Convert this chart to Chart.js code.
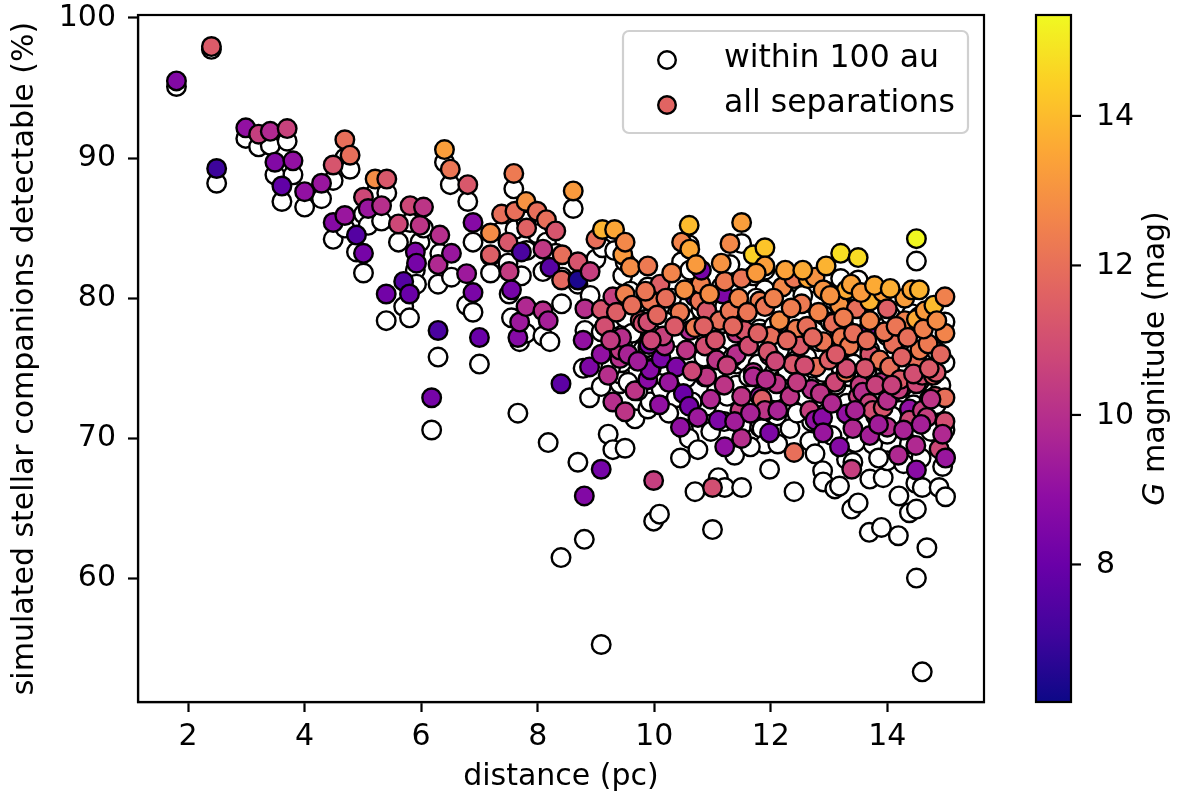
<!DOCTYPE html>
<html>
<head>
<meta charset="utf-8">
<script src="https://cdn.jsdelivr.net/npm/chart.js@4.4.1/dist/chart.umd.min.js"></script>
<style>
  html, body { margin: 0; padding: 0; background: #fff; }
  #wrap { width: 1181px; height: 797px; }
</style>
</head>
<body>
<div id="wrap"><canvas id="chart" width="1181" height="797"></canvas></div>
<script>
// one entry per star: distance (pc), detectable fraction for all separations,
// detectable fraction within 100 au, and Gaia G magnitude
const distance = [
  1.80, 2.40, 2.49, 2.99, 3.21, 3.41, 3.49, 3.61, 3.70, 3.80,
  4.00, 4.29, 4.49, 4.49, 4.69, 4.69, 4.78, 4.89, 5.01, 5.01,
  5.09, 5.21, 5.32, 5.40, 5.41, 5.61, 5.70, 5.80, 5.81, 5.90,
  5.92, 5.98, 6.04, 6.18, 6.29, 6.29, 6.32, 6.40, 6.50, 6.52,
  6.78, 6.80, 6.89, 6.89, 7.00, 7.19, 7.19, 7.38, 7.49, 7.51,
  7.55, 7.59, 7.61, 7.66, 7.69, 7.72, 7.80, 7.80, 7.81, 7.99,
  8.09, 8.09, 8.15, 8.18, 8.21, 8.31, 8.40, 8.41, 8.42, 8.61,
  8.69, 8.69, 8.78, 8.80, 8.81, 8.89, 8.90, 9.00, 9.09, 9.09,
  9.09, 9.11, 9.21, 9.29, 9.29, 9.32, 9.41, 9.41, 9.44, 9.46,
  9.50, 9.50, 9.50, 9.59, 9.67, 9.76, 9.80, 9.89, 9.89, 9.89,
  9.91, 9.93, 9.93, 9.99, 10.09, 10.10, 10.12, 10.18, 10.20, 10.38,
  10.44, 10.47, 10.50, 10.55, 10.60, 10.60, 10.61, 10.61, 10.70, 10.70,
  10.78, 10.80, 10.81, 10.87, 10.90, 10.90, 11.00, 11.07, 11.10, 11.12,
  11.18, 11.20, 11.21, 11.21, 11.30, 11.30, 11.41, 11.41, 11.47, 11.50,
  11.50, 11.50, 11.50, 11.55, 11.70, 11.70, 11.70, 11.81, 11.81, 11.85,
  11.90, 11.90, 11.90, 11.90, 11.98, 11.98, 12.00, 12.10, 12.15, 12.20,
  12.33, 12.38, 12.40, 12.40, 12.44, 12.50, 12.53, 12.64, 12.67, 12.70,
  12.76, 12.76, 12.78, 12.89, 12.90, 12.90, 12.90, 13.00, 13.07, 13.10,
  13.18, 13.18, 13.20, 13.21, 13.29, 13.30, 13.30, 13.30, 13.35, 13.39,
  13.41, 13.47, 13.50, 13.50, 13.53, 13.58, 13.69, 13.69, 13.70, 13.70,
  13.70, 13.70, 13.75, 13.87, 13.90, 13.93, 13.93, 14.00, 14.00, 14.00,
  14.04, 14.10, 14.19, 14.20, 14.22, 14.30, 14.30, 14.38, 14.38, 14.42,
  14.49, 14.50, 14.50, 14.50, 14.50, 14.50, 14.56, 14.60, 14.60, 14.65,
  14.68, 14.70, 14.79, 14.80, 14.82, 14.84, 14.89, 14.99, 14.99, 14.99,
  14.99, 15.00,
  10.05, 10.15, 10.25, 10.30, 10.35, 10.45, 10.52, 10.65, 10.72, 10.75,
  10.85, 10.95, 10.97, 11.05, 11.15, 11.25, 11.35, 11.38, 11.45, 11.60,
  11.62, 11.65, 11.75, 11.78, 11.95, 11.92, 12.05, 12.08, 12.12, 12.25,
  12.28, 12.35, 12.45, 12.55, 12.58, 12.62, 12.72, 12.82, 12.85, 12.95,
  13.02, 13.05, 13.12, 13.25, 13.38, 13.42, 13.45, 13.55, 13.62, 13.65,
  13.78, 13.80, 13.85, 13.95, 14.05, 14.08, 14.15, 14.25, 14.28, 14.35,
  14.45, 14.55, 14.58, 14.62, 14.72, 14.75, 14.85, 14.92, 14.95, 9.15,
  9.25, 9.35, 9.55, 9.62, 9.72, 9.85, 9.95
];
const detectAll = [
  95.5, 97.95, 89.25, 92.15, 91.7, 91.9, 89.7, 88.0, 92.1, 89.8,
  87.6, 88.2, 89.5, 85.4, 91.3, 85.9, 90.2, 84.5, 87.2, 83.2,
  86.4, 88.5, 86.6, 80.3, 88.5, 85.3, 81.2, 80.3, 86.6, 83.3,
  82.5, 85.2, 86.5, 72.9, 82.4, 77.7, 84.5, 90.6, 89.2, 83.2,
  81.75, 88.1, 85.4, 80.4, 77.2, 84.65, 83.1, 86.0, 84.0, 81.9,
  80.6, 88.9, 86.2, 77.2, 78.3, 83.3, 86.9, 79.4, 85.0, 86.2,
  83.5, 79.1, 85.6, 78.4, 82.2, 84.8, 73.9, 81.3, 83.1, 87.65,
  82.6, 81.3, 77.0, 65.9, 79.25, 75.1, 81.9, 84.2, 79.2, 76.0,
  67.8, 84.9, 74.5, 80.1, 72.6, 84.9, 75.7, 76.3, 77.2, 83.1,
  84.0, 80.3, 71.9, 82.2, 73.4, 78.4, 78.2, 82.3, 78.3, 74.2,
  76.7, 79.8, 74.9, 67.0, 72.4, 81.0, 75.7, 76.6, 80.0, 75.1,
  79.0, 84.0, 73.2, 76.3, 85.2, 72.3, 83.5, 77.7, 80.1, 77.9,
  79.8, 81.0, 82.0, 76.6, 79.1, 74.4, 66.5, 75.6, 71.3, 78.4,
  80.3, 73.8, 81.2, 69.4, 83.9, 79.1, 77.5, 76.0, 72.0, 85.4,
  81.4, 73.0, 70.0, 77.7, 83.1, 74.7, 74.4, 79.8, 73.0, 72.8,
  83.6, 82.3, 79.4, 72.0, 75.9, 70.4, 77.3, 73.9, 78.4, 80.8,
  73.0, 75.3, 81.4, 69.0, 77.8, 76.6, 79.6, 81.4, 72.0, 73.5,
  81.5, 71.3, 75.1, 71.5, 80.6, 76.9, 70.4, 75.6, 78.2, 74.0,
  69.4, 79.5, 83.2, 77.2, 74.7, 80.6, 75.0, 71.75, 76.6, 67.8,
  70.7, 79.25, 82.9, 73.0, 73.8, 73.3, 77.9, 72.5, 79.8, 76.0,
  78.4, 70.2, 72.0, 75.6, 74.0, 80.4, 72.2, 79.25, 72.7, 70.8,
  75.1, 76.75, 68.8, 73.5, 74.2, 80.0, 78.4, 72.1, 71.3, 80.6,
  69.5, 84.25, 78.5, 75.7, 73.9, 67.75, 76.3, 72.0, 74.5, 79.1,
  71.5, 76.75, 74.5, 79.5, 73.0, 74.7, 69.25, 80.1, 77.5, 72.9,
  71.2, 68.6,
  78.8, 77.3, 74.0, 81.8, 78.0, 70.8, 80.6, 74.8, 82.4, 71.5,
  78.0, 80.3, 72.8, 77.0, 82.5, 75.2, 78.0, 71.2, 80.0, 79.0,
  76.6, 71.8, 81.8, 77.5, 76.2, 74.2, 80.0, 75.5, 72.0, 82.0,
  77.0, 79.3, 74.0, 82.0, 75.2, 78.0, 77.2, 79.0, 73.2, 82.3,
  80.2, 72.5, 76.0, 78.6, 81.0, 77.5, 72.0, 80.4, 75.0, 77.0,
  80.9, 73.8, 71.0, 77.6, 80.7, 73.8, 78.0, 75.8, 70.6, 77.2,
  74.6, 80.6, 71.0, 77.8, 75.0, 72.8, 78.4, 76.0, 70.3, 78.0,
  77.0, 79.0, 76.0, 79.5, 75.5, 80.5, 77.0
];
const detect100au = [
  95.1, 97.75, 88.2, 91.4, 90.8, 90.9, 88.8, 86.9, 91.2, 88.8,
  86.5, 87.1, 88.4, 84.2, 90.0, 85.0, 89.2, 83.3, 86.0, 81.8,
  85.2, 87.5, 85.5, 78.4, 87.5, 84.0, 79.4, 78.6, 85.4, 82.0,
  81.0, 84.0, 85.0, 70.6, 81.0, 75.8, 83.2, 89.7, 88.1, 81.5,
  79.5, 86.9, 84.0, 79.0, 75.3, 83.0, 81.8, 84.8, 82.5, 80.3,
  78.6, 87.8, 84.9, 71.8, 76.9, 81.6, 85.5, 77.5, 83.4, 84.6,
  81.9, 77.3, 84.0, 69.7, 76.9, 83.2, 61.5, 79.6, 81.5, 86.4,
  81.0, 68.3, 75.0, 62.8, 77.7, 72.9, 80.2, 82.8, 77.6, 73.7,
  55.3, 83.6, 70.3, 78.5, 69.2, 83.4, 73.9, 74.6, 75.4, 81.6,
  82.6, 78.6, 69.3, 80.5, 71.4, 76.5, 76.3, 80.8, 76.5, 72.1,
  74.2, 77.8, 72.6, 64.1, 64.6, 79.4, 73.5, 74.4, 78.3, 72.9,
  77.0, 82.6, 70.7, 74.3, 83.8, 70.0, 82.0, 75.5, 78.0, 66.2,
  77.9, 79.2, 80.3, 74.4, 77.2, 72.3, 63.5, 73.4, 67.2, 76.3,
  78.2, 71.2, 79.4, 66.5, 82.4, 77.0, 75.3, 73.8, 69.5, 83.9,
  79.6, 70.9, 66.5, 75.5, 81.6, 72.6, 72.3, 77.8, 70.8, 70.7,
  82.0, 80.6, 77.5, 69.6, 73.6, 67.8, 75.2, 71.6, 76.3, 79.0,
  70.7, 73.1, 79.5, 66.2, 75.6, 74.3, 77.5, 79.7, 69.8, 71.2,
  79.8, 68.9, 72.9, 67.7, 78.8, 74.7, 66.9, 73.4, 76.2, 66.4,
  66.6, 77.6, 81.4, 75.0, 72.2, 78.8, 72.5, 68.5, 74.4, 64.96,
  68.3, 77.2, 81.3, 65.4, 71.5, 71.0, 75.6, 63.3, 77.8, 73.8,
  76.3, 67.1, 69.6, 73.4, 63.65, 78.6, 67.2, 77.3, 70.3, 68.4,
  72.9, 74.6, 63.06, 65.9, 72.0, 78.2, 76.3, 69.6, 64.7, 78.9,
  66.8, 82.65, 76.3, 73.4, 64.96, 60.04, 74.1, 53.35, 66.5, 77.0,
  62.2, 74.5, 72.2, 77.4, 70.8, 72.4, 66.5, 78.3, 75.4, 70.6,
  68.7, 65.84,
  76.8, 75.2, 71.8, 80.0, 75.9, 68.6, 78.6, 72.6, 80.7, 69.2,
  75.8, 78.2, 70.5, 74.8, 80.8, 73.0, 75.8, 68.8, 78.0, 76.8,
  74.4, 69.4, 80.0, 75.3, 74.0, 72.0, 78.0, 73.3, 69.6, 80.2,
  74.8, 77.2, 71.8, 80.2, 73.0, 75.8, 75.0, 76.9, 71.0, 80.5,
  78.3, 70.2, 73.8, 76.5, 79.2, 75.3, 69.7, 78.5, 72.8, 74.8,
  79.0, 71.6, 68.6, 75.4, 78.8, 71.6, 75.9, 73.6, 68.2, 75.0,
  72.4, 78.7, 68.6, 75.6, 72.8, 70.5, 76.2, 73.8, 68.0, 76.0,
  75.0, 77.0, 74.0, 77.5, 73.4, 78.5, 75.0
];
const gMag = [
  8.6, 11.4, 7.0, 9.0, 10.5, 9.8, 8.6, 7.8, 10.6, 9.0,
  9.0, 9.2, 11.2, 8.7, 12.0, 9.2, 12.0, 7.5, 10.8, 8.3,
  9.2, 12.8, 10.0, 8.2, 11.3, 10.8, 7.5, 8.0, 10.8, 8.5,
  8.3, 10.2, 10.2, 8.3, 9.8, 7.3, 10.0, 13.3, 12.2, 9.2,
  9.3, 11.3, 8.7, 8.4, 8.0, 12.8, 11.5, 12.0, 11.3, 10.4,
  8.3, 12.3, 12.0, 8.7, 9.3, 7.3, 13.0, 9.8, 11.6, 12.0,
  10.3, 10.0, 12.0, 9.5, 7.6, 11.2, 7.7, 11.8, 12.0, 13.2,
  11.2, 6.4, 9.0, 8.6, 10.0, 8.5, 10.5, 12.0, 11.2, 9.0,
  8.3, 13.8, 10.0, 10.5, 10.0, 13.5, 10.0, 10.3, 10.0, 13.2,
  12.7, 12.5, 10.2, 12.8, 10.2, 11.2, 11.0, 12.3, 11.0, 8.8,
  8.6, 12.2, 8.7, 10.5, 9.0, 11.5, 8.4, 10.0, 12.0, 8.5,
  12.3, 12.6, 8.0, 10.2, 14.0, 8.3, 13.5, 9.8, 8.0, 12.3,
  12.2, 12.5, 8.3, 11.0, 11.3, 10.3, 11.0, 10.2, 8.5, 12.0,
  8.5, 10.2, 12.3, 9.0, 12.7, 12.2, 10.3, 10.0, 10.5, 13.3,
  12.2, 10.2, 10.0, 11.3, 14.5, 10.0, 9.8, 12.4, 9.2, 11.5,
  14.2, 13.3, 12.2, 10.2, 10.3, 8.5, 12.0, 10.2, 12.8, 12.7,
  10.2, 11.3, 12.2, 12.0, 12.4, 11.4, 12.3, 13.5, 10.5, 10.0,
  13.0, 9.0, 12.0, 8.8, 13.0, 12.2, 9.2, 11.5, 12.0, 10.8,
  8.7, 13.0, 14.8, 12.3, 12.2, 13.6, 11.0, 9.0, 12.3, 10.5,
  9.8, 12.0, 14.7, 10.5, 10.5, 10.0, 8.7, 10.6, 13.8, 11.2,
  12.6, 9.5, 11.0, 12.2, 10.2, 13.3, 11.2, 11.5, 10.0, 10.0,
  12.0, 12.0, 9.8, 10.5, 11.4, 13.3, 12.5, 9.0, 10.8, 13.5,
  9.8, 15.3, 13.6, 12.0, 10.8, 8.8, 12.4, 10.5, 11.0, 13.2,
  10.5, 12.3, 11.5, 14.0, 11.2, 11.3, 10.8, 12.5, 12.6, 12.0,
  11.0, 9.2,
  11.8, 10.6, 9.2, 12.6, 11.4, 9.0, 12.9, 10.8, 13.2, 9.3,
  11.6, 12.8, 9.8, 11.2, 13.0, 10.6, 11.8, 9.4, 12.6, 12.2,
  11.0, 9.6, 13.2, 11.6, 11.2, 10.0, 12.5, 10.8, 9.6, 13.4,
  11.8, 12.4, 10.4, 13.6, 11.0, 12.0, 11.8, 12.6, 10.2, 13.8,
  13.0, 9.8, 11.4, 12.4, 13.4, 12.0, 9.6, 13.2, 11.2, 12.0,
  13.6, 10.6, 9.4, 12.2, 13.7, 10.6, 12.2, 11.6, 9.6, 12.0,
  11.0, 13.8, 9.5, 12.5, 11.4, 10.2, 12.8, 11.8, 9.8, 11.0,
  10.4, 11.5, 9.6, 12.0, 9.4, 12.2, 10.8
];

const xTicks = [2, 4, 6, 8, 10, 12, 14];
const yTicks = [60, 70, 80, 90, 100];
const cbarTicks = [8, 10, 12, 14];
const gRange = [6.16, 15.35];   // colour scale limits (mag)

const FONT = '"DejaVu Sans", sans-serif';
const FS = 30;

// matplotlib "plasma", sampled every 0.1
const plasmaStops = ['#0d0887', '#41049d', '#6a00a8', '#8f0da4', '#b12a90', '#cc4778',
                     '#e16462', '#f2844b', '#fca636', '#fcce25', '#f0f921'];

function hexRgb(h) {
  return [parseInt(h.slice(1, 3), 16), parseInt(h.slice(3, 5), 16), parseInt(h.slice(5, 7), 16)];
}
function plasma(t) {
  t = Math.min(1, Math.max(0, t));
  const f = t * (plasmaStops.length - 1);
  const i = Math.min(Math.floor(f), plasmaStops.length - 2);
  const u = f - i;
  const a = hexRgb(plasmaStops[i]), b = hexRgb(plasmaStops[i + 1]);
  const c = a.map((v, k) => Math.round(v + (b[k] - v) * u));
  return 'rgb(' + c.join(',') + ')';
}
function colorFor(g) {
  return plasma((g - gRange[0]) / (gRange[1] - gRange[0]));
}

const allPoints = distance.map((d, i) => ({ x: d, y: detectAll[i] }));
const innerPoints = distance.map((d, i) => ({ x: d, y: detect100au[i] }));
const pointColors = gMag.map(colorFor);

// frame, legend and colour bar
const extras = {
  id: 'extras',
  afterDraw(chart) {
    const ctx = chart.ctx;
    const a = chart.chartArea;
    ctx.save();

    ctx.lineWidth = 2.2;
    ctx.strokeStyle = '#000';
    ctx.strokeRect(a.left, a.top, a.right - a.left, a.bottom - a.top);

    // legend box
    ctx.beginPath();
    ctx.roundRect(623, 31, 345, 102, 6);
    ctx.fillStyle = 'rgba(255,255,255,0.8)';
    ctx.fill();
    ctx.strokeStyle = '#d0d0d0';
    ctx.lineWidth = 2.2;
    ctx.stroke();

    const rows = [
      { label: chart.data.datasets[1].label, fill: '#ffffff', y: 59 },
      { label: chart.data.datasets[0].label, fill: plasmaStops[6], y: 104 }
    ];
    rows.forEach(r => {
      ctx.beginPath();
      ctx.arc(667, r.y + 1, 8.8, 0, Math.PI * 2);
      ctx.fillStyle = r.fill;
      ctx.fill();
      ctx.lineWidth = 2.4;
      ctx.strokeStyle = '#000';
      ctx.stroke();
      ctx.fillStyle = '#000';
      ctx.font = '31.5px ' + FONT;
      ctx.textAlign = 'left';
      ctx.textBaseline = 'middle';
      ctx.fillText(r.label, 724, r.y);
    });

    // colour bar
    const cb = { left: 1036, right: 1071, top: a.top, bottom: a.bottom };
    const grad = ctx.createLinearGradient(0, cb.bottom, 0, cb.top);
    plasmaStops.forEach((c, i) => grad.addColorStop(i / (plasmaStops.length - 1), c));
    ctx.fillStyle = grad;
    ctx.fillRect(cb.left, cb.top, cb.right - cb.left, cb.bottom - cb.top);
    ctx.lineWidth = 2.2;
    ctx.strokeStyle = '#000';
    ctx.strokeRect(cb.left, cb.top, cb.right - cb.left, cb.bottom - cb.top);

    const gy = g => cb.bottom - (g - gRange[0]) / (gRange[1] - gRange[0]) * (cb.bottom - cb.top);
    ctx.font = FS + 'px ' + FONT;
    ctx.fillStyle = '#000';
    ctx.textAlign = 'left';
    ctx.textBaseline = 'middle';
    cbarTicks.forEach(g => {
      const y = gy(g);
      ctx.beginPath();
      ctx.moveTo(cb.right, y);
      ctx.lineTo(cb.right + 10, y);
      ctx.stroke();
      ctx.fillText(String(g), 1096, y + 1);
    });

    // colour bar title, G in italics
    ctx.translate(1156, (cb.top + cb.bottom) / 2);
    ctx.rotate(-Math.PI / 2);
    const italic = 'italic ' + FS + 'px ' + FONT;
    const upright = FS + 'px ' + FONT;
    ctx.font = italic;
    const wG = ctx.measureText('G').width;
    ctx.font = upright;
    const rest = ' magnitude (mag)';
    const wR = ctx.measureText(rest).width;
    let x0 = -(wG + wR) / 2;
    ctx.font = italic;
    ctx.fillText('G', x0, 0);
    ctx.font = upright;
    ctx.fillText(rest, x0 + wG, 0);

    ctx.restore();
  }
};

const tickFont = { family: FONT, size: FS };

new Chart(document.getElementById('chart'), {
  type: 'scatter',
  data: {
    datasets: [
      {
        label: 'all separations',
        data: allPoints,
        backgroundColor: pointColors,
        borderColor: '#000',
        borderWidth: 2.4,
        pointRadius: 9.3,
        order: 0
      },
      {
        label: 'within 100 au',
        data: innerPoints,
        backgroundColor: '#fff',
        borderColor: '#000',
        borderWidth: 2.4,
        pointRadius: 9.3,
        order: 1
      }
    ]
  },
  options: {
    responsive: false,
    animation: false,
    events: [],
    layout: { padding: { top: 15, right: 197, bottom: 0, left: 0 } },
    plugins: { legend: { display: false }, tooltip: { enabled: false } },
    scales: {
      x: {
        type: 'linear',
        min: 1.14,
        max: 15.66,
        afterBuildTicks: s => { s.ticks = xTicks.map(v => ({ value: v })); },
        afterFit: s => { s.height = 95; s.paddingLeft = 0; s.paddingRight = 0; },
        ticks: { font: tickFont, color: '#000', padding: 7, maxRotation: 0 },
        grid: { drawOnChartArea: false, drawTicks: true, tickLength: 10, tickWidth: 2.2, tickColor: '#000' },
        border: { display: true, color: '#000', width: 2.2 },
        title: { display: true, text: 'distance (pc)', font: tickFont, color: '#000', padding: { top: 0, bottom: 2 } }
      },
      y: {
        type: 'linear',
        min: 51.2,
        max: 100.2,
        afterBuildTicks: s => { s.ticks = yTicks.map(v => ({ value: v })); },
        afterFit: s => { s.width = 138; s.paddingTop = 0; s.paddingBottom = 0; },
        ticks: { font: tickFont, color: '#000', padding: 12 },
        grid: { drawOnChartArea: false, drawTicks: true, tickLength: 10, tickWidth: 2.2, tickColor: '#000' },
        border: { display: true, color: '#000', width: 2.2 },
        title: { display: true, text: 'simulated stellar companions detectable (%)', font: tickFont, color: '#000', padding: { top: 7, bottom: 0 } }
      }
    }
  },
  plugins: [extras]
});
</script>
</body>
</html>
